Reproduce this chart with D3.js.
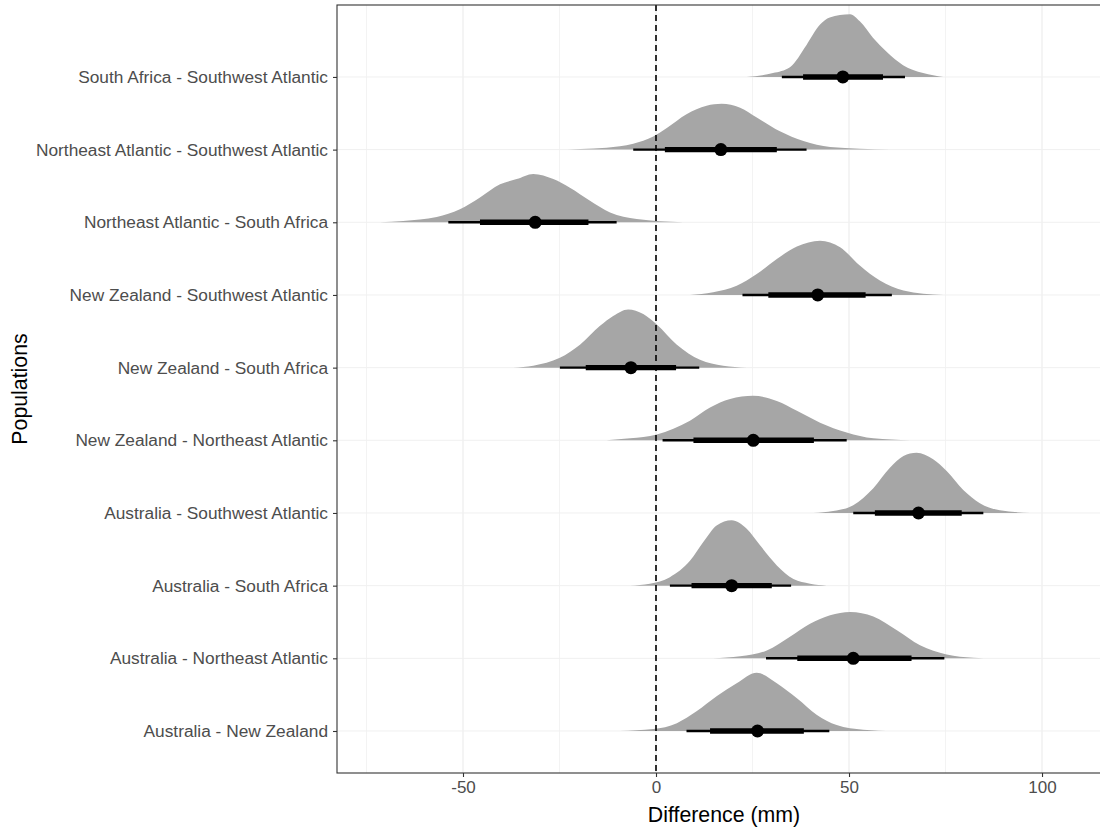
<!DOCTYPE html>
<html>
<head>
<meta charset="utf-8">
<script src="https://cdn.jsdelivr.net/npm/d3@7"></script>
<style>
  body { margin: 0; background: #fff; }
  svg { display: block; font-family: "Liberation Sans", Arial, sans-serif; }
</style>
</head>
<body>
<svg id="chart" width="1100" height="828"></svg>
<script>
/*** DATA (bottom row first) ***/
var populations = [
  "Australia - New Zealand",
  "Australia - Northeast Atlantic",
  "Australia - South Africa",
  "Australia - Southwest Atlantic",
  "New Zealand - Northeast Atlantic",
  "New Zealand - South Africa",
  "New Zealand - Southwest Atlantic",
  "Northeast Atlantic - South Africa",
  "Northeast Atlantic - Southwest Atlantic",
  "South Africa - Southwest Atlantic"
];
var medians = [26.3, 51.1, 19.6, 68.0, 25.2, -6.5, 41.9, -31.3, 16.8, 48.4];
var lo66 = [14.0, 36.6, 9.2, 56.7, 9.7, -18.2, 29.1, -45.6, 2.3, 38.1];
var hi66 = [38.3, 66.2, 30.0, 79.2, 40.9, 5.2, 54.3, -17.5, 31.3, 58.8];
var lo95 = [7.9, 28.5, 3.6, 51.1, 1.7, -24.9, 22.4, -53.8, -5.9, 32.6];
var hi95 = [44.9, 74.7, 35.0, 84.8, 49.4, 11.2, 61.1, -10.2, 39.0, 64.5];

// posterior densities: [difference, relative density]
var densities = [
  [[-9.3,0],[-0.7,.03],[5.4,.12],[10.5,.30],[15.7,.53],[20.9,.73],[26.1,.89],[31.3,.73],[36.5,.50],[41.6,.25],[46.8,.09],[53.7,.02],[61.5,0]],
  [[14.8,0],[21.8,.03],[28.7,.12],[34.7,.33],[39.9,.53],[45.1,.66],[50.3,.71],[56.3,.64],[62.4,.43],[68.4,.20],[75.3,.06],[82.2,.01],[87.4,0]],
  [[-6.7,0],[-1.6,.03],[3.6,.13],[8.8,.38],[12.3,.67],[15.7,.92],[19.6,1.0],[23.5,.87],[26.9,.62],[31.3,.31],[35.6,.10],[39.9,.03],[44.2,0]],
  [[40.8,0],[45.9,.03],[51.1,.12],[56.3,.38],[60.6,.69],[64.1,.87],[67.5,.92],[71.8,.82],[75.3,.64],[79.6,.35],[83.9,.15],[89.1,.04],[96.9,0]],
  [[-12.8,0],[-6.7,.03],[0.2,.09],[8.8,.30],[14,.50],[19.2,.63],[25.2,.68],[31.3,.60],[36.5,.45],[42.5,.27],[49.4,.12],[56.3,.03],[65.8,0]],
  [[-37,0],[-31.8,.03],[-24.9,.15],[-19.7,.35],[-14.5,.64],[-11.1,.79],[-7.2,.89],[-3.3,.82],[0.2,.66],[5.4,.35],[11.4,.12],[17.4,.03],[23.5,0]],
  [[8.8,0],[14.8,.04],[20.9,.14],[26.1,.32],[31.3,.55],[36.5,.74],[42.5,.83],[47.7,.73],[52.8,.45],[58,.22],[64.1,.07],[74.4,0]],
  [[-71.5,0],[-65.5,.02],[-56.8,.08],[-50.8,.20],[-45.6,.38],[-40.4,.58],[-36.1,.66],[-31.8,.74],[-26.6,.66],[-22.3,.53],[-17.1,.33],[-11.9,.15],[-5,.05],[7,0]],
  [[-26.2,0],[-12.8,.03],[-5.9,.09],[-0.7,.20],[2.8,.33],[7.9,.54],[13.1,.67],[17,.70],[21.8,.64],[26.1,.49],[32.1,.28],[38.2,.13],[45.1,.04],[60.6,0]],
  [[23.5,0],[30.3,.06],[34.7,.15],[39,.49],[42.5,.80],[45,.91],[50.3,.96],[52.8,.85],[56.2,.60],[59.8,.38],[64,.18],[69.2,.06],[74.4,0]]
];
var xTicks = [-50, 0, 50, 100];
var xMinor = [-75, -25, 25, 75];

/*** LAYOUT ***/
var panel = {left: 337, right: 1101, top: 5, bottom: 773},
    densityScale = 0.9,
    fillGrey = "#a6a6a6",
    textGrey = "#4d4d4d",
    fontFam = "'Liberation Sans', Arial, sans-serif";

var svg = d3.select("#chart");

var x = d3.scaleLinear()
  .domain([-82.64, 115.28])
  .range([panel.left, panel.right]);

// row index -> y (rows are one unit apart, densities grow upward)
var y = d3.scaleLinear()
  .domain([-0.578, 9.99])
  .range([panel.bottom, panel.top]);

svg.append("clipPath").attr("id", "panel-clip")
  .append("rect")
    .attr("x", panel.left).attr("y", panel.top)
    .attr("width", panel.right - panel.left)
    .attr("height", panel.bottom - panel.top);

var g = svg.append("g").attr("clip-path", "url(#panel-clip)");

// Grid lines
g.append("g").selectAll("line").data(xMinor).enter()
  .append("line")
    .attr("x1", d => x(d)).attr("x2", d => x(d))
    .attr("y1", panel.top).attr("y2", panel.bottom)
    .attr("stroke", "#ebebeb").attr("stroke-width", 0.6);
g.append("g").selectAll("line").data(xTicks).enter()
  .append("line")
    .attr("x1", d => x(d)).attr("x2", d => x(d))
    .attr("y1", panel.top).attr("y2", panel.bottom)
    .attr("stroke", "#ebebeb").attr("stroke-width", 1.1);
g.append("g").selectAll("line").data(populations).enter()
  .append("line")
    .attr("x1", panel.left).attr("x2", panel.right)
    .attr("y1", (d, i) => y(i)).attr("y2", (d, i) => y(i))
    .attr("stroke", "#f0f0f0").attr("stroke-width", 1);

// Half-eye densities
var rows = populations.map((p, i) => ({
  name: p, i: i, dens: densities[i], med: medians[i],
  lo66: lo66[i], hi66: hi66[i], lo95: lo95[i], hi95: hi95[i]
}));

var area = d3.area()
  .curve(d3.curveMonotoneX)
  .x(d => x(d[0]));

g.append("g").selectAll("path").data(rows).enter()
  .append("path")
    .attr("d", r => area
      .y0(y(r.i))
      .y1(d => y(r.i + d[1] * densityScale))(r.dens))
    .attr("fill", fillGrey);

// Zero reference line
g.append("line")
  .attr("x1", x(0)).attr("x2", x(0))
  .attr("y1", panel.top).attr("y2", panel.bottom)
  .attr("stroke", "#000").attr("stroke-width", 1.6)
  .attr("stroke-dasharray", "6,4");

// Intervals + medians
var iv = g.append("g").selectAll("g").data(rows).enter().append("g");
iv.append("line")
  .attr("x1", r => x(r.lo95)).attr("x2", r => x(r.hi95))
  .attr("y1", r => y(r.i)).attr("y2", r => y(r.i))
  .attr("stroke", "#000").attr("stroke-width", 2.4);
iv.append("line")
  .attr("x1", r => x(r.lo66)).attr("x2", r => x(r.hi66))
  .attr("y1", r => y(r.i)).attr("y2", r => y(r.i))
  .attr("stroke", "#000").attr("stroke-width", 5.4);
iv.append("circle")
  .attr("cx", r => x(r.med)).attr("cy", r => y(r.i))
  .attr("r", 6.5).attr("fill", "#000");

// Panel border
svg.append("rect")
  .attr("x", panel.left).attr("y", panel.top)
  .attr("width", panel.right - panel.left)
  .attr("height", panel.bottom - panel.top)
  .attr("fill", "none").attr("stroke", "#333").attr("stroke-width", 1.1);

// X axis
var xAxis = svg.append("g").attr("transform", "translate(0," + panel.bottom + ")")
  .call(d3.axisBottom(x).tickValues(xTicks).tickSize(4).tickPadding(4).tickFormat(d => String(d)));
xAxis.select(".domain").remove();
xAxis.selectAll(".tick line").attr("stroke", "#333").attr("stroke-width", 1.1);
xAxis.selectAll(".tick text").attr("fill", textGrey).style("font-size", "17px")
  .style("font-family", fontFam);

// Y axis
var yAxis = svg.append("g").attr("transform", "translate(" + panel.left + ",0)")
  .call(d3.axisLeft(d3.scalePoint().domain(d3.range(populations.length)).range([y(0), y(populations.length - 1)]))
    .tickSize(4).tickPadding(5).tickFormat(i => populations[i]));
yAxis.select(".domain").remove();
yAxis.selectAll(".tick line").attr("stroke", "#333").attr("stroke-width", 1.1);
yAxis.selectAll(".tick text").attr("fill", textGrey).style("font-size", "17.3px")
  .style("font-family", fontFam);

// Axis titles
svg.append("text")
  .attr("x", 724).attr("y", 822)
  .attr("text-anchor", "middle").attr("font-size", "21.3px").attr("fill", "#000")
  .text("Difference (mm)");
svg.append("text")
  .attr("transform", "translate(27," + ((panel.top + panel.bottom) / 2) + ") rotate(-90)")
  .attr("text-anchor", "middle").attr("font-size", "21.3px").attr("fill", "#000")
  .text("Populations");
</script>
</body>
</html>
